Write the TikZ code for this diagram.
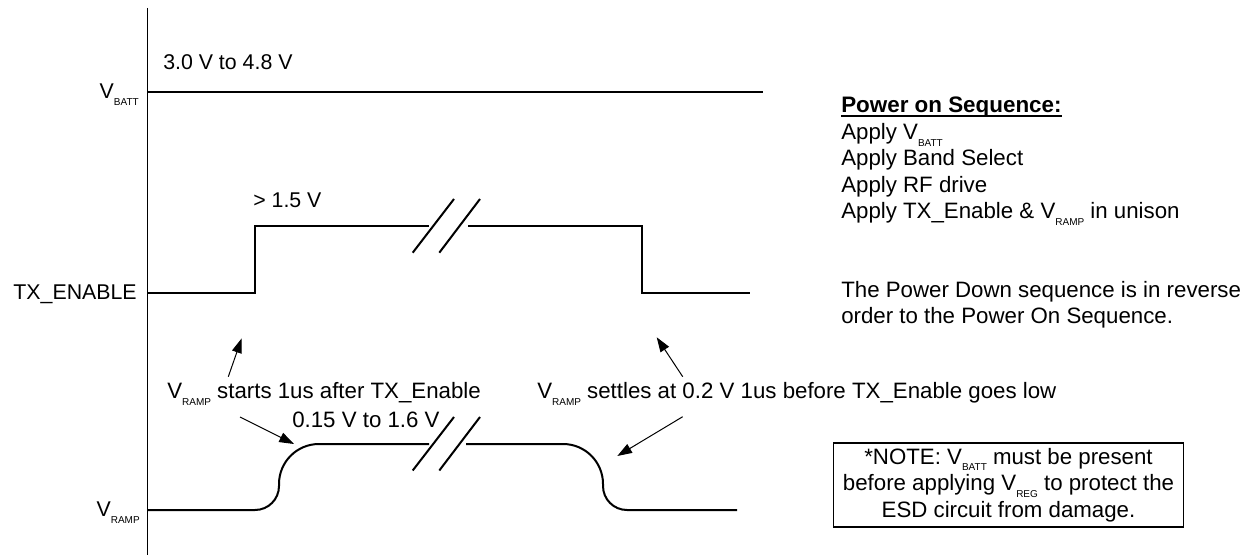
\documentclass[tikz,border=0pt]{standalone}
\usepackage{fontspec}
\setmainfont{Liberation Sans}
\usetikzlibrary{arrows.meta}
\newcommand{\lsub}[1]{\raisebox{-5pt}{\fontsize{7.5pt}{8pt}\selectfont #1}}
\begin{document}
\begin{tikzpicture}[x=0.75pt,y=-0.75pt,
  txt/.style={inner sep=0pt,font=\fontsize{16pt}{19.5pt}\selectfont},
  ann/.style={inner sep=0pt,font=\fontsize{16.7pt}{19.5pt}\selectfont},
  sig/.style={line width=1.5pt,line cap=butt},
  brk/.style={line width=1.5pt},
  ptr/.style={line width=0.75pt,-{Triangle[length=11pt,width=7.5pt]}},
  notebox/.style={draw,line width=0.8pt,inner sep=0pt,minimum width=263pt,minimum height=63pt,align=center,font=\fontsize{16.7pt}{19.9pt}\selectfont}]
\useasboundingbox (0,0) rectangle (1248,555);
% axis
\draw[line width=1.1pt] (147.5,8) -- (147.5,555);
% left labels
\node[txt,anchor=base east] (lbatt) at (139,98.5) {V\lsub{BATT}};
\node[txt,anchor=base east] (lten) at (137,300) {TX\_ENABLE};
\node[txt,anchor=base east] (lramp) at (140,516.5) {V\lsub{RAMP}};
% VBATT
\draw[sig] (147.5,92) -- (763,92);
\node[txt,anchor=base west] (vb) at (163,70) {3.0 V to 4.8 V};
% TX_ENABLE
\draw[sig] (147.5,293) -- (255,293) -- (255,226) -- (429,226);
\draw[sig] (468,226) -- (642,226) -- (642,293) -- (750,293);
\draw[brk] (412.7,252.7) -- (454,199);
\draw[brk] (439.3,252.7) -- (480,199);
\node[txt,anchor=base west] (hv) at (253,208) {> 1.5 V};
% VRAMP
\draw[sig] (147.5,510) -- (255,510) .. controls (268.3,510) and (279,499.3) .. (279,486)
  -- (279,484) .. controls (279,461.9) and (296.9,444) .. (319,444) -- (429,444);
\draw[sig] (466,444) -- (563,444) .. controls (585.1,444) and (603,461.9) .. (603,484)
  -- (603,486) .. controls (603,499.3) and (613.7,510) .. (627,510) -- (737,510);
\draw[brk] (412.7,470.5) -- (454,417);
\draw[brk] (439.3,470.5) -- (480,417);
% annotations
\node[ann,anchor=base west] (st) at (167,399) {V\lsub{RAMP} starts 1us after TX\_Enable};
\node[ann,anchor=base west] (rng) at (292,427) {0.15 V to 1.6 V};
\node[ann,anchor=base west] (se) at (537,399) {V\lsub{RAMP} settles at 0.2 V 1us before TX\_Enable goes low};
\coordinate (t1) at (228.3,376.7); \coordinate (h1) at (241.7,338.3);
\coordinate (t2) at (682.7,376.7); \coordinate (h2) at (656.7,337.3);
\coordinate (t3) at (240,417);     \coordinate (h3) at (294,444);
\coordinate (t4) at (682.7,416.7); \coordinate (h4) at (617.3,456);
\draw[ptr] (t1) -- (h1);
\draw[ptr] (t2) -- (h2);
\draw[ptr] (t3) -- (h3);
\draw[ptr] (t4) -- (h4);
% right text
\node[ann,anchor=base west,font=\fontsize{16.8pt}{19.5pt}\selectfont\bfseries] (title) at (841,113) {Power on Sequence:};
\draw[line width=1pt] ([yshift=-2.2pt]title.base west) -- ([yshift=-2.2pt]title.base east);
\node[ann,anchor=base west] (s1) at (841,140) {Apply V\lsub{BATT}};
\node[ann,anchor=base west] (s2) at (841,166) {Apply Band Select};
\node[ann,anchor=base west] (s3) at (841,192.5) {Apply RF drive};
\node[ann,anchor=base west] (s4) at (841,218.5) {Apply TX\_Enable \& V\lsub{RAMP} in unison};
\node[ann,anchor=base west] (pd1) at (841,297.5) {The Power Down sequence is in reverse};
\node[ann,anchor=base west] (pd2) at (841,323.5) {order to the Power On Sequence.};
% note
\node[notebox] (note) at (1008.5,485) {*NOTE: V\lsub{BATT} must be present\\before applying V\lsub{REG} to protect the\\ESD circuit from damage.};
\end{tikzpicture}
\end{document}
